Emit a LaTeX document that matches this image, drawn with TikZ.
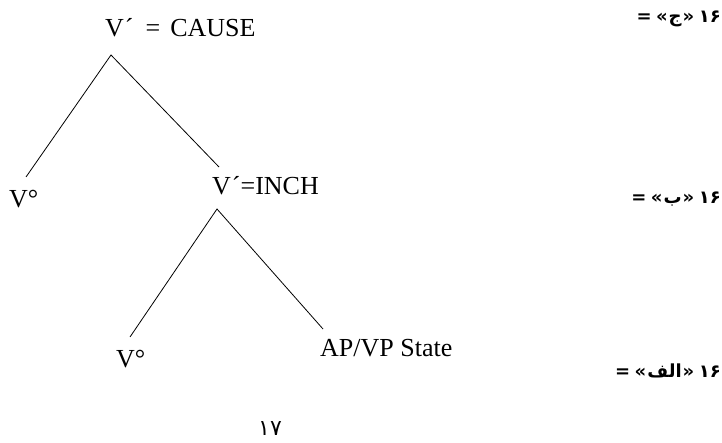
\documentclass[tikz,border=0pt]{standalone}
\usepackage{fontspec}
\setmainfont{Liberation Serif}
\newfontfamily\arabicfont[Script=Arabic]{DejaVu Sans}
\newfontfamily\plainfa{DejaVu Sans}
\newcommand{\fadigits}[2]{\mbox{\plainfa #1}\mbox{\plainfa #2}}
\newcommand{\falabel}[1]{{\plainfa =} {\plainfa «}\kern1pt{\arabicfont #1}\kern1pt{\plainfa »} \fadigits{۱}{۶}}
\begin{document}
\begin{tikzpicture}[x=1pt,y=-1pt,
  lbl/.style={font=\fontsize{26}{26}\selectfont, inner sep=0pt, anchor=base west},
  branch/.style={line width=0.8pt},
  falbl/.style={font=\bfseries\fontsize{18}{18}\selectfont, inner sep=0pt, anchor=base east},
  numlbl/.style={font=\fontsize{22}{22}\selectfont, inner sep=0pt, anchor=base}]
\useasboundingbox (0,0) rectangle (722,443);
% tree nodes
\node[lbl] (cause) at (105,37) {V\kern1pt´\hspace{12pt}=\hspace{10pt}CAUSE};
\node[lbl] (v1) at (9,208) {V°};
\node[lbl] (inch) at (212,195) {V\kern1pt´=INCH};
\node[lbl] (v2) at (116,367) {V°};
\node[lbl] (state) at (320,356) {AP/VP State};
% branch points
\coordinate (a1) at (111,55);
\coordinate (e1) at (26,177);
\coordinate (e2) at (219,167);
\coordinate (a2) at (217,209);
\coordinate (e3) at (130,337);
\coordinate (e4) at (323,329);
\draw[branch] (e1) -- (a1) -- (e2);
\draw[branch] (e3) -- (a2) -- (e4);
% labels on the right
\node[falbl] (lc) at (721,23) {\falabel{ج}};
\node[falbl] (lb) at (721,204) {\falabel{ب}};
\node[falbl] (la) at (721,377) {\falabel{الف}};
\node[numlbl] (num) at (270,435) {\fadigits{۱}{۷}};
\end{tikzpicture}
\end{document}
